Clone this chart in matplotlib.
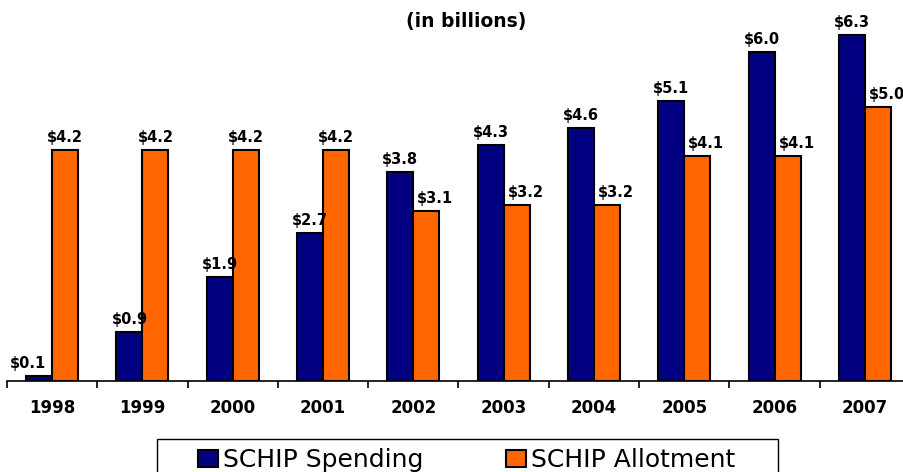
import matplotlib
matplotlib.use('Agg')
import matplotlib.pyplot as plt
import numpy as np
from matplotlib.patches import Rectangle

years = ['1998', '1999', '2000', '2001', '2002', '2003', '2004', '2005', '2006', '2007']
spending = [0.1, 0.9, 1.9, 2.7, 3.8, 4.3, 4.6, 5.1, 6.0, 6.3]
allotment = [4.2, 4.2, 4.2, 4.2, 3.1, 3.2, 3.2, 4.1, 4.1, 5.0]

W, H = 904, 472
PX = 72 / 100  # points per pixel at dpi 100
plt.rcParams['font.family'] = ['DejaVu Sans']

fig = plt.figure(figsize=(W / 100, H / 100), dpi=100)
# axes in pixel terms: left 7, right 910, baseline 381, top 30
ax = fig.add_axes([7 / W, (H - 381) / H, 903 / W, 351 / H])

x = np.arange(len(years))
bw = 0.288
b1 = ax.bar(x - bw / 2, spending, bw, color='#000080', edgecolor='black',
            linewidth=1.5, label='SCHIP Spending')
b2 = ax.bar(x + bw / 2, allotment, bw, color='#FF6600', edgecolor='black',
            linewidth=1.5, label='SCHIP Allotment')

# data labels; nudge sideways where a neighbour bar would overlap
for i in range(len(years)):
    for r, v, other in ((b1[i], spending[i], allotment[i]), (b2[i], allotment[i], spending[i])):
        dx = 0
        if r in b1.patches and v < 0.5:
            dx = -11
        elif r in b2.patches and other > v:
            dx = 9
        ax.annotate(f'${v:.1f}', (r.get_x() + r.get_width() / 2, v),
                    xytext=(dx * PX, 8 * PX), textcoords='offset points',
                    ha='center', va='baseline', fontsize=10.5, fontweight='bold')

ax.set_xlim(-0.5, len(years) - 0.5)
ax.set_ylim(0, 351 / 54.9)
ax.set_xticks(x)
ax.set_xticklabels(years, fontsize=12, fontweight='bold')
ax.tick_params(axis='x', which='major', length=0, pad=13)
ax.set_xticks(np.arange(len(years) + 1) - 0.5, minor=True)
ax.tick_params(axis='x', which='minor', length=5, width=1.2, color='black')
ax.set_yticks([])
for s in ('left', 'right', 'top'):
    ax.spines[s].set_visible(False)
ax.spines['bottom'].set_linewidth(1.2)

fig.text(466 / W, 1 - 27 / H, '(in billions)', ha='center', va='baseline',
         fontsize=13.5, fontweight='bold')

# legend frame, running off the bottom of the figure
fig.patches.append(Rectangle((157 / W, -0.05), (778 - 157) / W, 0.05 + (H - 439) / H,
                             transform=fig.transFigure, facecolor='white',
                             edgecolor='black', linewidth=1.0))
fig.legend(handles=[b1, b2], loc='center left', bbox_to_anchor=(186 / W, 1 - 460 / H),
           ncol=2, frameon=False, fontsize=18, handlelength=0.8, handleheight=0.7,
           handletextpad=0.2, columnspacing=3.3, borderpad=0)

fig.savefig('out.png', dpi=100)
